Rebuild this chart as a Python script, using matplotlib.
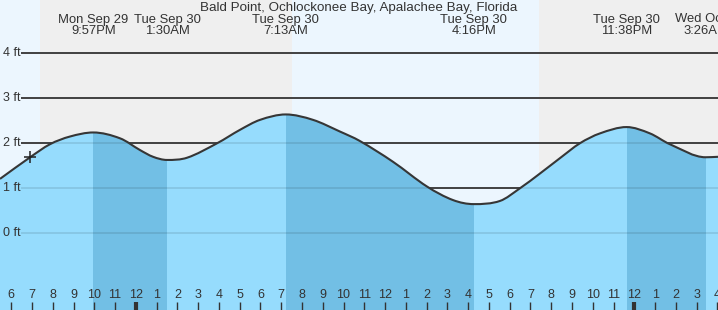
import matplotlib
matplotlib.use("Agg")
import matplotlib.pyplot as plt
from matplotlib.path import Path
from matplotlib.patches import PathPatch
import numpy as np

# ---------------- data (hours relative to Tue Sep 30 00:00) ----------------
title = "Bald Point, Ochlockonee Bay, Apalachee Bay, Florida"

tide_times = [-6.54, -5.09, -4.13, -3.17, -2.05, -0.76, 0.20, 0.83, 1.50, 2.47,
              3.91, 5.02, 5.98, 7.22, 8.53, 9.83, 10.79, 12.38, 14.02, 15.27,
              16.27, 17.53, 18.49, 19.46, 20.42, 21.38, 22.35, 23.63, 24.75,
              25.71, 27.43, 28.03]
tide_heights = [1.21, 1.69, 1.98, 2.15, 2.24, 2.11, 1.85, 1.70, 1.63, 1.68,
                2.00, 2.30, 2.52, 2.64, 2.52, 2.26, 2.05, 1.59, 1.04, 0.74,
                0.65, 0.72, 1.00, 1.33, 1.67, 2.00, 2.22, 2.36, 2.22,
                1.98, 1.69, 1.70]

event_times = [-2.05, 1.50, 7.22, 16.27, 23.63, 27.43]
event_days = ["Mon Sep 29", "Tue Sep 30", "Tue Sep 30", "Tue Sep 30",
              "Tue Sep 30", "Wed Oct 1"]
event_clock = ["9:57PM", "1:30AM", "7:13AM", "4:16PM", "11:38PM", "3:26AM"]
event_kind = ["high", "low", "high", "low", "high", "low"]

night_spans = [(-4.61, 7.52), (19.41, 29.0)]

grid_levels = [0, 1, 2, 3, 4]
grid_labels = ["0 ft", "1 ft", "2 ft", "3 ft", "4 ft"]

hour_ticks = list(range(-6, 29))
hour_labels = ["6", "7", "8", "9", "10", "11", "12", "1", "2", "3", "4", "5",
               "6", "7", "8", "9", "10", "11", "12", "1", "2", "3", "4", "5",
               "6", "7", "8", "9", "10", "11", "12", "1", "2", "3", "4"]
midnight_ticks = [0, 24]

now_time = -5.09
now_height = 1.69

# ---------------- style ----------------
W, H = 718, 310
XMIN, XMAX = -6.54, 28.03
YMIN, YMAX = -1.70, 5.18
DAY = "#ecf6fe"
NIGHT = "#efefef"
WATER = "#96dcfd"
WATER_DARK = "#72bfe5"
INK = "#333333"
FONT = "Liberation Sans"

fig = plt.figure(figsize=(W / 100, H / 100), dpi=100)
ax = fig.add_axes([0, 0, 1, 1])
ax.set_xlim(XMIN, XMAX)
ax.set_ylim(YMIN, YMAX)
ax.axis("off")

# sky
ax.axvspan(XMIN, XMAX, color=DAY, lw=0, zorder=0)
for a, b in night_spans:
    ax.axvspan(a, b, color=NIGHT, lw=0, zorder=0.5)

# grid lines (over sky)
yt = ax.get_yaxis_transform()
ax.hlines(grid_levels, 21 / W, 1, transform=yt, color=INK, lw=1.3, zorder=1)
for lvl, lab in zip(grid_levels, grid_labels):
    ax.text(3 / W, lvl, lab, transform=yt, ha="left", va="center",
            fontsize=9, family=FONT, color=INK, zorder=6)

# smooth curve through the read points (cubic Bezier segments)
t = np.array(tide_times)
h = np.array(tide_heights)
n = len(t)
m = np.zeros(n)
for i in range(n):
    if i == 0:
        m[i] = (h[1] - h[0]) / (t[1] - t[0])
    elif i == n - 1:
        m[i] = (h[-1] - h[-2]) / (t[-1] - t[-2])
    else:
        d1 = (h[i] - h[i - 1]) / (t[i] - t[i - 1])
        d2 = (h[i + 1] - h[i]) / (t[i + 1] - t[i])
        if d1 * d2 <= 0:
            m[i] = 0.0
        else:
            m[i] = (h[i + 1] - h[i - 1]) / (t[i + 1] - t[i - 1])

curve_verts = [(t[0], h[0])]
curve_codes = [Path.MOVETO]
for i in range(n - 1):
    d = t[i + 1] - t[i]
    curve_verts += [(t[i] + d / 3, h[i] + m[i] * d / 3),
                    (t[i + 1] - d / 3, h[i + 1] - m[i + 1] * d / 3),
                    (t[i + 1], h[i + 1])]
    curve_codes += [Path.CURVE4] * 3

fill_verts = [(t[0], YMIN - 1)] + curve_verts + [(t[-1], YMIN - 1), (t[0], YMIN - 1)]
fill_codes = [Path.MOVETO] + [Path.LINETO] + curve_codes[1:] + [Path.LINETO, Path.CLOSEPOLY]
water = PathPatch(Path(fill_verts, fill_codes), facecolor=WATER, edgecolor="none",
                  zorder=2)
ax.add_patch(water)

# falling-tide bands (high -> low)
for i in range(len(event_times) - 1):
    if event_kind[i] == "high":
        band = ax.axvspan(event_times[i], event_times[i + 1], color=WATER_DARK,
                          lw=0, zorder=2.2)
        band.set_clip_path(water)

# grid lines seen through water
under = ax.hlines(grid_levels, 21 / W, 1, transform=yt, color=(0, 0, 0, 0.10),
                  lw=1.3, zorder=2.5)
under.set_clip_path(water)

# curve outline
ax.add_patch(PathPatch(Path(curve_verts, curve_codes), facecolor="none",
                       edgecolor="#363636", lw=1.5, zorder=3))

# current time marker
ax.plot([now_time], [now_height], marker="+", ms=9, mew=1.1, color="#222222",
        zorder=4)

# bottom hour ticks
xt = ax.get_xaxis_transform()
ax.vlines(hour_ticks, 0, 8 / H, transform=xt, color=INK, lw=1.0, zorder=5)
ax.vlines(midnight_ticks, 0, 8 / H, transform=xt, color=INK, lw=3.0, zorder=5)
for ht, hl in zip(hour_ticks, hour_labels):
    ax.text(ht, 14.5 / H, hl, transform=xt, ha="center", va="center",
            fontsize=9, family=FONT, color=INK, zorder=6)

# top labels
ax.text(0.5, 1 - 7.5 / H, title, transform=ax.transAxes, ha="center",
        va="center", fontsize=9.6, family=FONT, color=INK, zorder=6)
for et, dlab, clab in zip(event_times, event_days, event_clock):
    ax.text(et, 1 - 19.5 / H, dlab, transform=xt, ha="center", va="center",
            fontsize=9.4, family=FONT, color=INK, zorder=6)
    ax.text(et, 1 - 31.5 / H, clab, transform=xt, ha="center", va="center",
            fontsize=9.4, family=FONT, color=INK, zorder=6)

fig.savefig("out.png", dpi=100)
